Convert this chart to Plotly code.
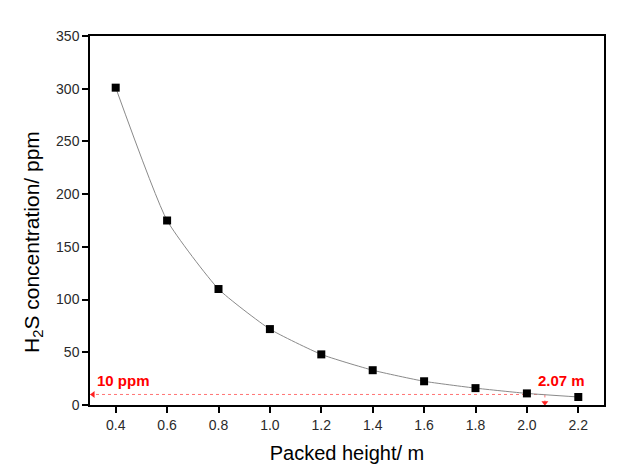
import plotly.graph_objects as go

height_m = [0.4, 0.6, 0.8, 1.0, 1.2, 1.4, 1.6, 1.8, 2.0, 2.2]
h2s_ppm = [301, 175, 110, 72, 48, 33, 22.5, 16, 11, 7.6]
x_ticks = [0.4, 0.6, 0.8, 1.0, 1.2, 1.4, 1.6, 1.8, 2.0, 2.2]
y_ticks = [0, 50, 100, 150, 200, 250, 300, 350]
target_ppm = 10
target_height = 2.07
x_min = 0.3

fig = go.Figure()
fig.add_trace(go.Scatter(
    x=height_m, y=h2s_ppm, mode="lines+markers",
    line=dict(color="#8a8a8a", width=1, shape="spline", smoothing=0.5),
    marker=dict(symbol="square", size=8, color="black"),
    showlegend=False, cliponaxis=False,
))

# red dotted guide lines
fig.add_shape(type="line", x0=x_min, x1=target_height, y0=target_ppm, y1=target_ppm,
              line=dict(color="rgba(255,40,40,0.65)", width=1, dash="dot"), layer="below")
fig.add_shape(type="line", x0=target_height, x1=target_height, y0=target_ppm, y1=0,
              line=dict(color="rgba(255,40,40,0.65)", width=1, dash="dot"), layer="below")

# small arrow heads at the ends of the guide lines
fig.add_trace(go.Scatter(
    x=[x_min + 0.012, target_height], y=[target_ppm, 2.2], mode="markers",
    marker=dict(symbol=["triangle-left", "triangle-down"], size=6, color="#ff2020"),
    showlegend=False, cliponaxis=False, hoverinfo="skip",
))

fig.add_annotation(x=0.318, y=23.5, xref="x", yref="y", text="<b>10 ppm</b>",
                   showarrow=False, xanchor="left",
                   font=dict(family="Liberation Sans, Arial", size=15, color="#ff0000"))
fig.add_annotation(x=2.232, y=23.5, xref="x", yref="y", text="<b>2.07 m</b>",
                   showarrow=False, xanchor="right",
                   font=dict(family="Liberation Sans, Arial", size=15, color="#ff0000"))

# y axis title as annotation (offset like the reference)
fig.add_annotation(x=-0.111, y=0.4417, xref="paper", yref="paper",
                   text="H<sub>2</sub>S concentration/ ppm", textangle=-90,
                   showarrow=False, xanchor="center", yanchor="middle",
                   font=dict(family="Liberation Sans, Arial", size=21, color="black"))

axis_common = dict(showline=True, linecolor="black", linewidth=1.5, mirror=True,
                   showgrid=False, zeroline=False, ticks="outside", ticklen=6,
                   tickwidth=1.5, tickcolor="black",
                   tickfont=dict(family="Liberation Sans, Arial", size=14, color="#2a2a2a"))

fig.update_xaxes(range=[x_min, 2.3], tickvals=x_ticks,
                 ticktext=[f"{v:.1f}" for v in x_ticks],
                 title=dict(text="Packed height/ m", standoff=14,
                            font=dict(family="Liberation Sans, Arial", size=20, color="black")),
                 **axis_common)
fig.update_yaxes(range=[0, 350], tickvals=y_ticks, **axis_common)

fig.update_layout(
    width=629, height=472,
    margin=dict(l=90, r=25, t=36, b=67),
    paper_bgcolor="white", plot_bgcolor="white",
)

fig.write_html("out.html")
